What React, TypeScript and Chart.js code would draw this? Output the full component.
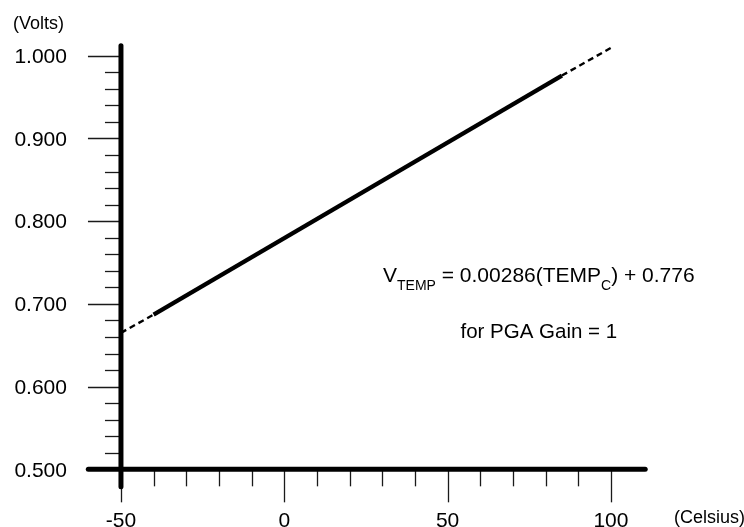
import { useEffect, useRef } from "react";
import { Chart, registerables } from "chart.js";

Chart.register(...registerables);

// Data (Celsius -> Volts)
const lowDashTemps = [-50, -40];
const lowDashVolts = [0.665, 0.687];
const solidTemps = [-40, 85];
const solidVolts = [0.687, 0.976];
const highDashTemps = [85, 100];
const highDashVolts = [0.976, 1.0095];

// Axes
const xMin = -60;
const xMax = 110.5;
const yMin = 0.479;
const yMax = 1.012;
const xAxisAt = 0.5;
const yAxisAt = -50;
const xMajorTicks = [-50, 0, 50, 100];
const xTickLabels = ["-50", "0", "50", "100"];
const xMinorTicks = [-40, -30, -20, -10, 10, 20, 30, 40, 60, 70, 80, 90];
const yMajorTicks = [0.5, 0.6, 0.7, 0.8, 0.9, 1.0];
const yTickLabels = ["0.500", "0.600", "0.700", "0.800", "0.900", "1.000"];
const yMinorTicks = [
  0.52, 0.54, 0.56, 0.58, 0.62, 0.64, 0.66, 0.68, 0.72, 0.74, 0.76, 0.78,
  0.82, 0.84, 0.86, 0.88, 0.92, 0.94, 0.96, 0.98,
];
const yUnit = "(Volts)";
const xUnit = "(Celsius)";
const eqMain = "V";
const eqSub1 = "TEMP";
const eqMid = " = 0.00286(TEMP";
const eqSub2 = "C";
const eqEnd = ") + 0.776";
const noteText = "for PGA Gain = 1";

const FONT = "'Liberation Sans', Arial, Helvetica, sans-serif";

const toPoints = (xs: number[], ys: number[]) => xs.map((x, i) => ({ x, y: ys[i] }));

const axesPlugin = {
  id: "customAxes",
  afterDatasetsDraw(chart: any) {
    const ctx: CanvasRenderingContext2D = chart.ctx;
    const xs = chart.scales.x;
    const ys = chart.scales.y;
    const x0 = xs.getPixelForValue(yAxisAt);
    const y0 = ys.getPixelForValue(xAxisAt);
    const seg = (a: number, b: number, c: number, d: number) => {
      ctx.beginPath();
      ctx.moveTo(a, b);
      ctx.lineTo(c, d);
      ctx.stroke();
    };
    ctx.save();
    // ticks
    ctx.strokeStyle = "#1a1a1a";
    ctx.lineWidth = 1.3;
    ctx.lineCap = "butt";
    yMinorTicks.forEach((v) => {
      const y = Math.round(ys.getPixelForValue(v)) + 0.5;
      seg(x0 - 16, y, x0, y);
    });
    yMajorTicks.forEach((v) => {
      const y = Math.round(ys.getPixelForValue(v)) + 0.5;
      seg(x0 - 33, y, x0, y);
    });
    xMinorTicks.forEach((v) => {
      const x = Math.round(xs.getPixelForValue(v)) + 0.5;
      seg(x, y0, x, y0 + 17);
    });
    xMajorTicks.forEach((v) => {
      const x = Math.round(xs.getPixelForValue(v)) + 0.5;
      seg(x, y0, x, y0 + 33);
    });
    // axis lines
    ctx.strokeStyle = "#000";
    ctx.lineWidth = 5;
    ctx.lineCap = "round";
    seg(x0, ys.top, x0, ys.bottom);
    seg(xs.left, y0, xs.right, y0);

    // tick labels
    ctx.fillStyle = "#000";
    ctx.font = `21px ${FONT}`;
    ctx.textBaseline = "alphabetic";
    ctx.textAlign = "right";
    yMajorTicks.forEach((v, i) => {
      ctx.fillText(yTickLabels[i], x0 - 54, ys.getPixelForValue(v) + 7.3);
    });
    ctx.textAlign = "center";
    xMajorTicks.forEach((v, i) => {
      ctx.fillText(xTickLabels[i], xs.getPixelForValue(v), y0 + 57.5);
    });

    // units
    ctx.font = `18px ${FONT}`;
    ctx.textAlign = "left";
    ctx.fillText(yUnit, 13, 28.5);
    ctx.fillText(xUnit, 674, 522.5);

    // equation
    let cx = 383;
    const base = 281.7;
    const parts: [string, boolean][] = [
      [eqMain, false],
      [eqSub1, true],
      [eqMid, false],
      [eqSub2, true],
      [eqEnd, false],
    ];
    parts.forEach(([t, sub]) => {
      ctx.font = sub ? `14px ${FONT}` : `21px ${FONT}`;
      ctx.fillText(t, cx, sub ? base + 8.3 : base);
      cx += ctx.measureText(t).width;
    });
    ctx.font = `20.5px ${FONT}`;
    ctx.fillText(noteText, 460.5, 338);
    ctx.restore();
  },
};

export default function App() {
  const ref = useRef<HTMLCanvasElement | null>(null);
  useEffect(() => {
    if (!ref.current) return;
    const common = {
      borderColor: "#000",
      pointRadius: 0,
      showLine: true,
      fill: false,
      tension: 0,
    };
    const chart = new Chart(ref.current, {
      type: "scatter",
      data: {
        datasets: [
          {
            ...common,
            label: "low",
            data: toPoints(lowDashTemps, lowDashVolts),
            borderWidth: 2.4,
            borderDash: [6, 4],
          },
          {
            ...common,
            label: "solid",
            data: toPoints(solidTemps, solidVolts),
            borderWidth: 4.2,
          },
          {
            ...common,
            label: "high",
            data: toPoints(highDashTemps, highDashVolts),
            borderWidth: 2.4,
            borderDash: [6, 4],
          },
        ],
      },
      options: {
        animation: false,
        responsive: false,
        events: [],
        layout: { padding: { left: 88.3, right: 98.8, top: 45.8, bottom: 40.3 } },
        plugins: { legend: { display: false }, tooltip: { enabled: false } },
        scales: {
          x: { type: "linear", min: xMin, max: xMax, display: false },
          y: { type: "linear", min: yMin, max: yMax, display: false },
        },
      },
      plugins: [axesPlugin],
    } as any);
    return () => chart.destroy();
  }, []);
  return (
    <div style={{ position: "absolute", left: 0, top: 0, width: 744, height: 527, background: "#fff" }}>
      <canvas ref={ref} width={744} height={527} />
    </div>
  );
}
